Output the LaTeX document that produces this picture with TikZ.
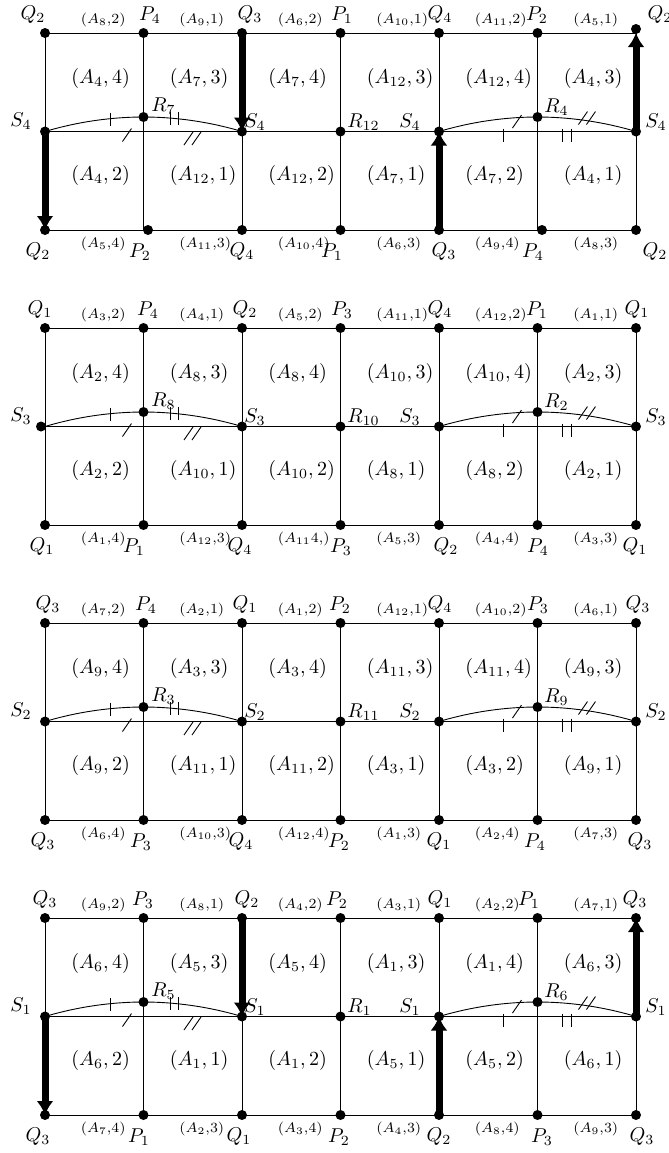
\documentclass[tikz,border=0pt]{standalone}
\usetikzlibrary{arrows.meta}
\begin{document}
\begin{tikzpicture}[x=0.5pt,y=-0.5pt,
  gridline/.style={line width=0.45pt},
  dot/.style={circle,fill=black,inner sep=0pt,minimum size=5pt},
  thickarr/.style={line width=3.5pt,-{Latex[length=7pt,width=8.5pt]}},
  vlab/.style={inner sep=0pt},
  cell/.style={anchor=west,inner sep=0pt},
  elab/.style={anchor=west,inner sep=0pt,font=\scriptsize},
  rlab/.style={anchor=west,inner sep=0pt},
]
\useasboundingbox (0,0) rectangle (669,1153);

\newcommand\pgrid{%
  \foreach \i in {0,...,6}{
    \pgfmathsetmacro\xx{45+98.5*\i}
    \coordinate (\pid t\i) at (\xx,0);
    \coordinate (\pid m\i) at (\xx,98.5);
    \coordinate (\pid b\i) at (\xx,197);
  }
  \coordinate (\pid RL) at (143.5,84);
  \coordinate (\pid RR) at (537.5,84);
  \draw[gridline] (\pid t0) -- (\pid t6);
  \draw[gridline] (\pid m0) -- (\pid m6);
  \draw[gridline] (\pid b0) -- (\pid b6);
  \foreach \i in {0,...,6} \draw[gridline] (\pid t\i) -- (\pid b\i);
  \draw[gridline] (\pid m0) parabola bend (\pid RL) (\pid m2);
  \draw[gridline] (\pid m4) parabola bend (\pid RR) (\pid m6);
  % marks on the left arc and line
  \draw[gridline] (110,79.5) -- (110,92.5);
  \draw[gridline] (170,79) -- (170,92) (178.5,79) -- (178.5,92);
  \draw[gridline] (122.5,108.5) -- (131.5,95.5);
  \draw[gridline] (184,112) -- (193,99) (192,112) -- (201,99);
  % marks on the right line and arc
  \draw[gridline] (503,95.5) -- (503,108.5);
  \draw[gridline] (562,95.5) -- (562,108.5) (571,95.5) -- (571,108.5);
  \draw[gridline] (512.5,95) -- (521.5,82);
  \draw[gridline] (578.5,91.5) -- (587.5,78.5) (586.5,91.5) -- (595.5,78.5);
}

\newcommand\parrows{%
  \draw[thickarr] (\pid t2) -- (\pid m2);
  \draw[thickarr] (\pid m0) -- (\pid b0);
  \draw[thickarr] (\pid b4) -- (\pid m4);
  \draw[thickarr] (\pid m6) -- (\pid t6);
}

% #1 x of left middle dot, #2 y of top right dot, #3 x of bottom dot 1, #4 x of bottom dot 5
\newcommand\pdots[4]{%
  \foreach \i in {0,...,5} \node[dot] (\pid dt\i) at (\pid t\i) {};
  \node[dot] (\pid dt6) at (636,#2) {};
  \node[dot] (\pid dm0) at (#1,98.5) {};
  \foreach \i in {2,3,4,6} \node[dot] (\pid dm\i) at (\pid m\i) {};
  \node[dot] (\pid dRL) at (\pid RL) {};
  \node[dot] (\pid dRR) at (\pid RR) {};
  \foreach \i in {0,2,3,4,6} \node[dot] (\pid db\i) at (\pid b\i) {};
  \node[dot] (\pid db1) at (#3,197) {};
  \node[dot] (\pid db5) at (#4,197) {};
}

% #1 top vertices, #2 top edge labels, #3 top cells, #4 S/Rl/Rm/Rr,
% #5 bottom cells, #6 bottom edge labels, #7 bottom vertices
\newcommand\plabels[7]{%
  \foreach \x/\t [count=\i] in {#1} \node[vlab] (\pid vt\i) at (\x,-18) {$\t$};
  \foreach \t [count=\i from 0] in {#2} \node[elab] (\pid et\i) at ({80.5+98.5*\i},-13) {\t};
  \foreach \t [count=\i from 0] in {#3} \node[cell] (\pid ct\i) at ({71+98.5*\i},45) {$(\t)$};
  \foreach \s/\ra/\rb/\rc in {#4}{
    \node[vlab] (\pid sa) at (21,88) {$S_{\s}$};
    \node[rlab] (\pid ra) at (151,73) {$R_{\ra}$};
    \node[vlab] (\pid sb) at (255,89) {$S_{\s}$};
    \node[rlab] (\pid rb) at (347,89) {$R_{\rb}$};
    \node[vlab] (\pid sc) at (410,89) {$S_{\s}$};
    \node[rlab] (\pid rc) at (544,74) {$R_{\rc}$};
    \node[vlab] (\pid sd) at (656,89) {$S_{\s}$};
  }
  \foreach \t [count=\i from 0] in {#5} \node[cell] (\pid cb\i) at ({71+98.5*\i},142) {$(\t)$};
  \foreach \t [count=\i from 0] in {#6} \node[elab] (\pid eb\i) at ({80.5+98.5*\i},211) {\t};
  \foreach \x/\t [count=\i] in {#7} \node[vlab] (\pid vb\i) at (\x,219) {$\t$};
}

% ---------------- panel 1 ----------------
\begin{scope}[shift={(0,33)}]
\def\pid{a}
\pgrid
\parrows
\pdots{45}{-4}{148}{542}
\plabels{33/Q_2,150/P_4,250/Q_3,342/P_1,440/Q_4,537/P_2,660/Q_2}
 {{($A_8$,2)},{($A_9$,1)},{($A_6$,2)},{($A_{10}$,1)},{($A_{11}$,2)},{($A_5$,1)}}
 {{A_4,4},{A_7,3},{A_7,4},{A_{12},3},{A_{12},4},{A_4,3}}
 {4/7/12/4}
 {{A_4,2},{A_{12},1},{A_{12},2},{A_7,1},{A_7,2},{A_4,1}}
 {{($A_5$,4)},{($A_{11}$,3)},{($A_{10}$,4)},{($A_6$,3)},{($A_9$,4)},{($A_8$,3)}}
 {38/Q_2,140/P_2,242/Q_4,332/P_1,444/Q_3,533/P_4,655/Q_2}
\end{scope}

% ---------------- panel 2 ----------------
\begin{scope}[shift={(0,328)}]
\def\pid{b}
\pgrid
\pdots{41}{0}{143.5}{537.5}
\plabels{40/Q_1,148/P_4,245/Q_2,342/P_3,440/Q_4,537/P_1,637/Q_1}
 {{($A_3$,2)},{($A_4$,1)},{($A_5$,2)},{($A_{11}$,1)},{($A_{12}$,2)},{($A_1$,1)}}
 {{A_2,4},{A_8,3},{A_8,4},{A_{10},3},{A_{10},4},{A_2,3}}
 {3/8/10/2}
 {{A_2,2},{A_{10},1},{A_{10},2},{A_8,1},{A_8,2},{A_2,1}}
 {{($A_1$,4)},{($A_{12}$,3)},{($A_{11}$4,)},{($A_5$,3)},{($A_4$,4)},{($A_3$,3)}}
 {42/Q_1,134/P_1,240/Q_4,341/P_3,446/Q_2,538/P_4,635/Q_1}
\end{scope}

% ---------------- panel 3 ----------------
\begin{scope}[shift={(0,623)}]
\def\pid{c}
\pgrid
\pdots{45}{0}{143.5}{537.5}
\plabels{48/Q_3,146/P_4,245/Q_1,340/P_2,440/Q_4,538/P_3,638/Q_3}
 {{($A_7$,2)},{($A_2$,1)},{($A_1$,2)},{($A_{12}$,1)},{($A_{10}$,2)},{($A_6$,1)}}
 {{A_9,4},{A_3,3},{A_3,4},{A_{11},3},{A_{11},4},{A_9,3}}
 {2/3/11/9}
 {{A_9,2},{A_{11},1},{A_{11},2},{A_3,1},{A_3,2},{A_9,1}}
 {{($A_6$,4)},{($A_{10}$,3)},{($A_{12}$,4)},{($A_1$,3)},{($A_2$,4)},{($A_7$,3)}}
 {43/Q_3,141/P_3,241/Q_4,339/P_2,439/Q_1,535/P_4,640/Q_3}
\end{scope}

% ---------------- panel 4 ----------------
\begin{scope}[shift={(0,918)}]
\def\pid{d}
\pgrid
\parrows
\pdots{45}{0}{143.5}{537.5}
\plabels{45/Q_3,143/P_3,247/Q_2,337/P_2,440/Q_1,529/P_1,635/Q_3}
 {{($A_9$,2)},{($A_8$,1)},{($A_4$,2)},{($A_3$,1)},{($A_2$,2)},{($A_7$,1)}}
 {{A_6,4},{A_5,3},{A_5,4},{A_1,3},{A_1,4},{A_6,3}}
 {1/5/1/6}
 {{A_6,2},{A_1,1},{A_1,2},{A_5,1},{A_5,2},{A_6,1}}
 {{($A_7$,4)},{($A_2$,3)},{($A_3$,4)},{($A_4$,3)},{($A_8$,4)},{($A_9$,3)}}
 {38/Q_3,139/P_1,239/Q_1,339/P_2,439/Q_2,542/P_3,642/Q_3}
\end{scope}
\end{tikzpicture}
\end{document}
